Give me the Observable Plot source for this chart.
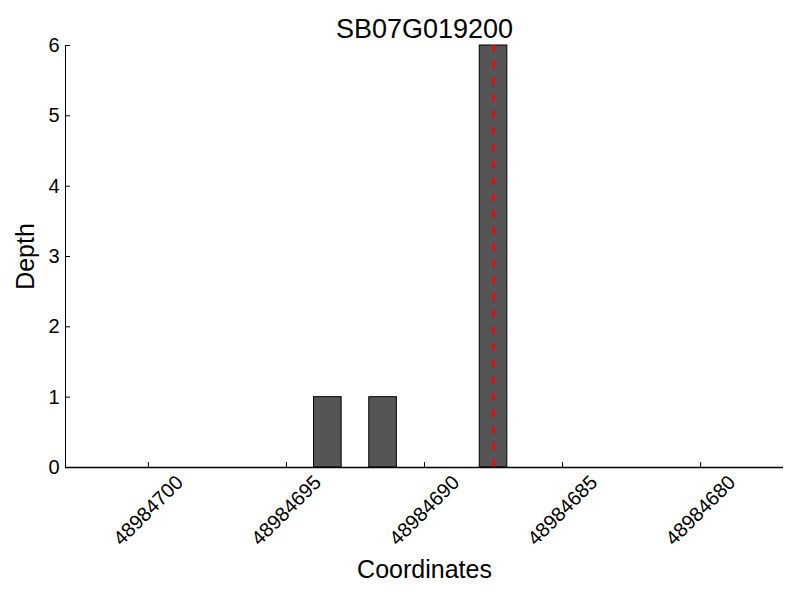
<!DOCTYPE html>
<html>
<head>
<meta charset="utf-8">
<script src="https://cdn.jsdelivr.net/npm/d3@7"></script>
<script src="https://cdn.jsdelivr.net/npm/@observablehq/plot@0.6"></script>
<style>
  html, body { margin: 0; padding: 0; background: #fff; }
  svg { display: block; }
</style>
</head>
<body>
<div id="chart"></div>
<script>
const chartTitle = "SB07G019200";
const xLabel = "Coordinates";
const yLabel = "Depth";
// bar start coordinates (each bar covers [pos, pos+1]) and depth
const barPositions = [48984693, 48984691, 48984687];
const barDepths = [1, 1, 6];
const markerPosition = 48984687.5;
const xDomain = [48984703, 48984677];
const yDomain = [0, 6];
const xTicks = [48984700, 48984695, 48984690, 48984685, 48984680];
const yTicks = [0, 1, 2, 3, 4, 5, 6];

const bars = barPositions.map((p, i) => ({pos: p, depth: barDepths[i]}));
const font = "'Liberation Sans', Arial, Helvetica, sans-serif";

const chart = Plot.plot({
  width: 800,
  height: 600,
  marginLeft: 65,
  marginRight: 17,
  marginTop: 45,
  marginBottom: 133,
  style: {fontFamily: font, background: "#fff", color: "#000"},
  x: {domain: xDomain, axis: null},
  y: {domain: yDomain, axis: null},
  marks: [
    Plot.rect(bars, {x1: d => d.pos, x2: d => d.pos + 1, y1: 0, y2: d => d.depth, fill: "#555555", stroke: "#000", strokeWidth: 1}),
    Plot.ruleX([markerPosition], {x: d => d, y1: yDomain[0], y2: yDomain[1], stroke: "#ff0000", strokeWidth: 2.5, strokeDasharray: "7.4,9.2"}),
    // spines
    Plot.ruleX([xDomain[0]], {x: d => d, y1: yDomain[0], y2: yDomain[1], stroke: "#000", strokeWidth: 1}),
    Plot.ruleY([0], {y: d => d, x1: xDomain[0], x2: xDomain[1], stroke: "#000", strokeWidth: 1.5}),
    // inward ticks
    Plot.ruleX(xTicks, {x: d => d, y1: 0, y2: 0, insetTop: -5, stroke: "#000", strokeWidth: 1}),
    Plot.ruleY(yTicks, {y: d => d, x1: xDomain[0], x2: xDomain[0], insetRight: -5, stroke: "#000", strokeWidth: 1}),
    // tick labels
    Plot.text(xTicks, {x: d => d, text: d => String(d), frameAnchor: "bottom", dy: 43, rotate: -45, textAnchor: "middle", lineAnchor: "middle", fontSize: 20, fill: "#000"}),
    Plot.text(yTicks, {y: d => d, text: d => String(d), frameAnchor: "left", dx: -6, textAnchor: "end", lineAnchor: "middle", fontSize: 20, fill: "#000"}),
    // title & axis labels
    Plot.text([chartTitle], {frameAnchor: "top", dy: -8, textAnchor: "middle", lineAnchor: "bottom", fontSize: 27, fill: "#000"}),
    Plot.text([xLabel], {frameAnchor: "bottom", dy: 110, textAnchor: "middle", lineAnchor: "bottom", fontSize: 25, fill: "#000"}),
    Plot.text([yLabel], {frameAnchor: "left", dx: -32, rotate: -90, textAnchor: "middle", lineAnchor: "bottom", fontSize: 25, fill: "#000"})
  ]
});
document.getElementById("chart").appendChild(chart);
</script>
</body>
</html>
